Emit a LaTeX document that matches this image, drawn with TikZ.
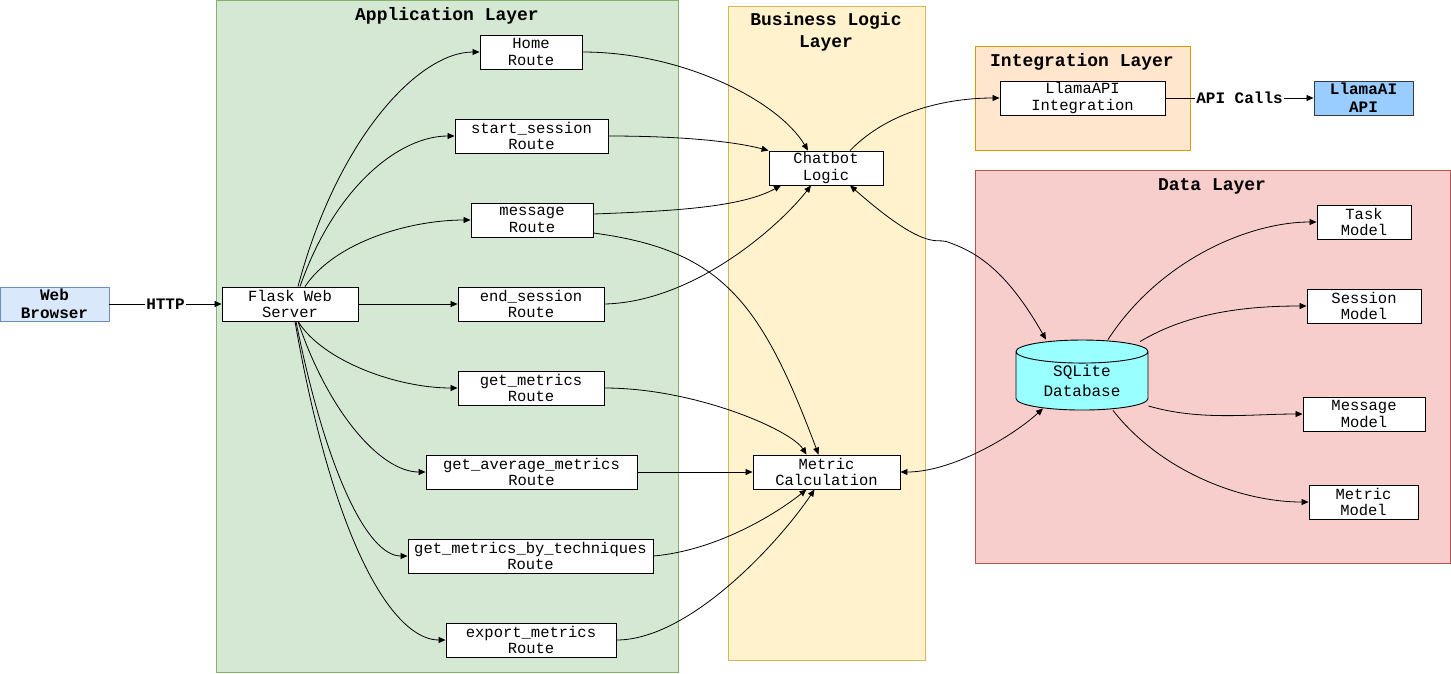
\documentclass[tikz,border=0pt]{standalone}
\usepackage{fontspec}
\setmainfont{Liberation Mono}
\setmonofont{Liberation Mono}
\usetikzlibrary{arrows.meta,shapes.geometric,calc}
\definecolor{appfill}{HTML}{D5E8D4}\definecolor{appdraw}{HTML}{82B366}
\definecolor{blfill}{HTML}{FFF2CC}\definecolor{bldraw}{HTML}{D6B656}
\definecolor{ilfill}{HTML}{FFE6CC}\definecolor{ildraw}{HTML}{D79B00}
\definecolor{dlfill}{HTML}{F8CECC}\definecolor{dldraw}{HTML}{B85450}
\definecolor{wbfill}{HTML}{DAE8FC}\definecolor{wbdraw}{HTML}{6C8EBF}
\definecolor{lafill}{HTML}{99CCFF}\definecolor{ladraw}{HTML}{36393D}
\definecolor{dbfill}{HTML}{99FFFF}
\tikzset{
  layer/.style={line width=0.8pt},
  title/.style={font=\fontsize{18}{22}\selectfont\bfseries, align=center, inner sep=0pt},
  box/.style={draw, fill=white, line width=0.9pt, minimum height=34pt, inner sep=0pt,
    align=center, font=\fontsize{15.5}{16.5}\selectfont},
  bbox/.style={box, font=\fontsize{16}{18}\selectfont\bfseries},
  arr/.style={line width=0.8pt, -{Triangle[length=7pt,width=6pt]}},
  barr/.style={line width=0.8pt, {Triangle[length=7pt,width=6pt]}-{Triangle[length=7pt,width=6pt]}},
  elabel/.style={fill=white, inner sep=1pt, font=\fontsize{16}{18}\selectfont\bfseries}
}
\begin{document}
\begin{tikzpicture}[x=1pt,y=-1pt]
\useasboundingbox (0,0) rectangle (1451,673);
% layers
\filldraw[layer, fill=appfill, draw=appdraw] (216.5,0.5) rectangle (678,672);
\filldraw[layer, fill=blfill, draw=bldraw] (728,6) rectangle (925,660);
\filldraw[layer, fill=ilfill, draw=ildraw] (975,46) rectangle (1190,150);
\filldraw[layer, fill=dlfill, draw=dldraw] (975,170) rectangle (1450,563);
\node[title] (tapp) at (447,16) {Application Layer};
\node[title] (tbl) at (826,32) {Business Logic\\Layer};
\node[title] (til) at (1082,62) {Integration Layer};
\node[title] (tdl) at (1212,186) {Data Layer};
% nodes
\node[bbox, fill=wbfill, draw=wbdraw, minimum width=109pt] (wb) at (54.5,304) {Web\\Browser};
\node[box, minimum width=136pt] (fl) at (290,304) {Flask Web\\Server};
\node[box, minimum width=102pt] (home) at (531,52) {Home\\Route};
\node[box, minimum width=153pt] (ss) at (531.5,136) {start\_session\\Route};
\node[box, minimum width=122pt] (msg) at (532,220) {message\\Route};
\node[box, minimum width=146pt] (es) at (531,304) {end\_session\\Route};
\node[box, minimum width=146pt] (gm) at (531,388) {get\_metrics\\Route};
\node[box, minimum width=211pt] (gam) at (531.5,472) {get\_average\_metrics\\Route};
\node[box, minimum width=245pt] (gmt) at (530.5,556) {get\_metrics\_by\_techniques\\Route};
\node[box, minimum width=170pt] (exp) at (531,640) {export\_metrics\\Route};
\node[box, minimum width=114pt] (cb) at (826,168) {Chatbot\\Logic};
\node[box, minimum width=147pt] (mc) at (826.5,472) {Metric\\Calculation};
\node[box, minimum width=165pt] (li) at (1082.5,98) {LlamaAPI\\Integration};
\node[bbox, fill=lafill, draw=ladraw, minimum width=99pt] (la) at (1363.5,98) {LlamaAI\\API};
\node[cylinder, shape border rotate=90, aspect=0.3, draw, fill=dbfill, line width=0.9pt,
  minimum height=70pt, minimum width=132pt, inner sep=0pt, align=center,
  font=\fontsize{16}{20}\selectfont] (db) at (1082,381) {SQLite\\Database};
\node[box, minimum width=94pt] (task) at (1364,222) {Task\\Model};
\node[box, minimum width=114pt] (sess) at (1364,306) {Session\\Model};
\node[box, minimum width=122pt] (mm) at (1364,414) {Message\\Model};
\node[box, minimum width=109pt] (met) at (1363.5,502) {Metric\\Model};
% connectors
\draw[arr] (wb.east) -- node[elabel] {HTTP} (fl.west);
\draw[arr] ($(fl.north)+(8,0)$) .. controls +(40,-150) and +(-60,0) .. (home.west);
\draw[arr] ($(fl.north)+(10,0)$) .. controls +(35,-100) and +(-55,0) .. (ss.west);
\draw[arr] ($(fl.north)+(15,0)$) .. controls +(30,-45) and +(-60,0) .. (msg.west);
\draw[arr] (fl.east) -- (es.west);
\draw[arr] ($(fl.south)+(8,0)$) .. controls +(25,40) and +(-60,0) .. (gm.west);
\draw[arr] ($(fl.south)+(8,0)$) .. controls +(30,90) and +(-45,0) .. (gam.west);
\draw[arr] ($(fl.south)+(6,0)$) .. controls +(30,150) and +(-40,0) .. (gmt.west);
\draw[arr] ($(fl.south)+(5,0)$) .. controls +(40,230) and +(-50,0) .. (exp.west);
\draw[arr] (home.east) .. controls +(100,0) and +(-30,-50) .. ($(cb.north)+(-18,0)$);
\draw[arr] (ss.east) .. controls +(80,0) and +(-30,-8) .. (cb.north west);
\draw[arr] ($(msg.east)+(0,-6)$) .. controls +(80,-3) and +(-40,22) .. ($(cb.south)+(-45,0)$);
\draw[arr] (es.east) .. controls +(90,-2) and +(-31,40) .. ($(cb.south)+(-15,0)$);
\draw[arr] ($(msg.east)+(0,13)$) .. controls +(127,17) and +(-58,-155) .. ($(mc.north)+(-8,0)$);
\draw[arr] (gm.east) .. controls +(90,0) and +(-16,-25) .. ($(mc.north)+(-20,0)$);
\draw[arr] (gam.east) -- (mc.west);
\draw[arr] (gmt.east) .. controls +(67,-6) and +(-26,21) .. ($(mc.south)+(-20,0)$);
\draw[arr] (exp.east) .. controls +(74,0) and +(-34,51) .. ($(mc.south)+(-12,0)$);
\draw[barr] (mc.east) .. controls +(50,0) and +(-33,30) .. ($(db.south)+(-39,-2)$);
\draw[barr] ($(cb.south)+(24,0)$) .. controls +(75,66) and +(-10,-3) .. ($(cb.south)+(120,56)$)
  .. controls +(30,10) and +(-40,-70) .. ($(db.north)+(-36,0)$);
\draw[arr] ($(cb.north)+(24,0)$) .. controls +(40,-41) and +(-50,0) .. (li.west);
\draw[arr] (li.east) -- node[elabel] {API Calls} (la.west);
\draw[arr] ($(db.north)+(26,0)$) .. controls +(52,-80) and +(-67,0) .. (task.west);
\draw[arr] ($(db.north)+(58,2)$) .. controls +(50,-30) and +(-57,0) .. (sess.west);
\draw[arr] ($(db.east)+(0,25)$) .. controls +(52,15) and +(-53,0) .. (mm.west);
\draw[arr] ($(db.south)+(31,0)$) .. controls +(47,60) and +(-69,0) .. (met.west);
\end{tikzpicture}
\end{document}
